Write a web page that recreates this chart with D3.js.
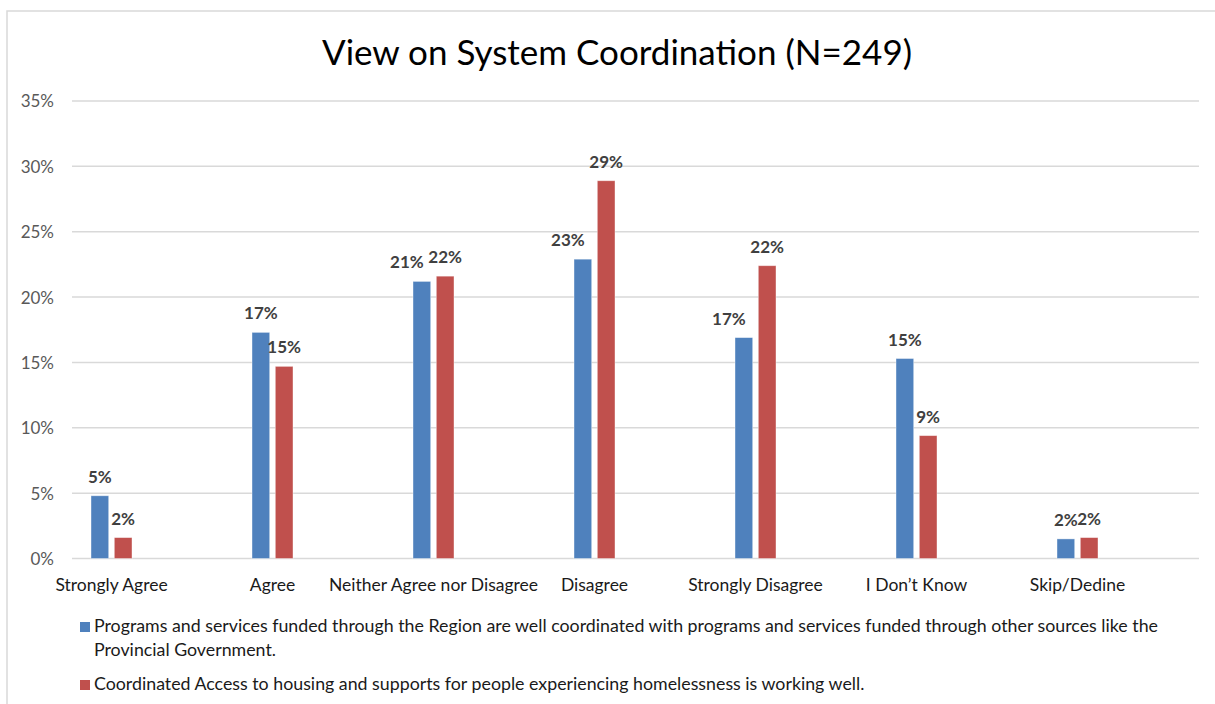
<!DOCTYPE html>
<html><head><meta charset="utf-8">
<script src="https://cdn.jsdelivr.net/npm/d3@7"></script>
<style>
html,body{margin:0;padding:0;background:#fff;}
svg{display:block;font-family:Lato, "Open Sans", sans-serif;}
</style></head>
<body><svg id="c" width="1215" height="704"></svg>
<script>
const title = "View on System Coordination (N=249)";
const categories = ["Strongly Agree","Agree","Neither Agree nor Disagree","Disagree","Strongly Disagree","I Don\u2019t Know","Skip/Dedine"];
const seriesNames = [
  "Programs and services funded through the Region are well coordinated with programs and services funded through other sources like the Provincial Government.",
  "Coordinated Access to housing and supports for people experiencing homelessness is working well."
];
const seriesColors = ["#4F81BD","#C0504D"];
const regionValues = [4.8, 17.3, 21.2, 22.9, 16.9, 15.3, 1.5];
const accessValues = [1.6, 14.7, 21.6, 28.9, 22.4, 9.4, 1.6];
const yTicks = [0,5,10,15,20,25,30,35];

const series = [regionValues, accessValues];
const svg = d3.select("#c");

// frame
svg.append("rect").attr("x",7).attr("y",11).attr("width",1230).attr("height",720)
  .attr("fill","#fff").attr("stroke","#d9d9d9").attr("stroke-width",1.5);

svg.append("text").attr("x",617).attr("y",65).attr("text-anchor","middle")
  .attr("font-size",35).attr("fill","#000").text(title);

const y = d3.scaleLinear().domain([0,35]).range([558.5,101]);
const x0 = d3.scaleBand().domain(categories).range([31,1158]);
const x1 = d3.scaleBand().domain([0,1]).range([-20.5,20.5]).paddingInner(0.24);

// gridlines
svg.append("g").selectAll("line").data(yTicks).join("line")
  .attr("x1",72).attr("x2",1199).attr("y1",d=>y(d)).attr("y2",d=>y(d))
  .attr("stroke","#d9d9d9").attr("stroke-width",1.5);

// y axis labels
const yAxis = d3.axisLeft(y).tickValues(yTicks).tickFormat(d=>d+"%").tickSize(0).tickPadding(0);
const ya = svg.append("g").attr("transform","translate(54,0)").call(yAxis);
ya.select(".domain").remove();
ya.selectAll("text").attr("font-size",17).attr("fill","#595959").attr("font-family","Lato, sans-serif").attr("dy","0.35em");

// x axis labels
const xAxis = d3.axisBottom(x0).tickSize(0).tickPadding(0);
const xa = svg.append("g").attr("transform","translate(0,591)").call(xAxis);
xa.select(".domain").remove();
xa.selectAll("text").attr("font-size",17.5).attr("fill","#1a1a1a").attr("font-family","Lato, sans-serif").attr("dy",0);

// bars
const LH = 12; // label cap height
const groups = svg.append("g").selectAll("g").data(categories).join("g")
  .attr("transform",d=>`translate(${x0(d)+x0.bandwidth()/2},0)`);
groups.each(function(cat,i){
  const g = d3.select(this);
  series.forEach((vals,s)=>{
    g.append("rect").attr("x",x1(s)).attr("width",x1.bandwidth())
      .attr("y",y(vals[i])).attr("height",y(0)-y(vals[i]))
      .attr("fill",seriesColors[s]).attr("stroke","rgba(255,255,255,0.5)").attr("stroke-width",0.8);
  });
  const labels = series.map((vals,s)=>g.append("text")
      .attr("x",x1(s)+x1.bandwidth()/2).attr("y",y(vals[i])-13)
      .attr("text-anchor","middle").attr("font-size",17).attr("font-weight","bold")
      .attr("fill","#404040").text(Math.round(vals[i])+"%"));
  // avoid collisions of first label with second label / second bar
  const w0 = labels[0].node().getComputedTextLength(), w1 = labels[1].node().getComputedTextLength();
  const c0 = x1(0)+x1.bandwidth()/2, c1 = x1(1)+x1.bandwidth()/2;
  const b0 = y(series[0][i])-13, b1 = y(series[1][i])-13;
  const hOverlapLabel = (c0 + w0/2) - (c1 - w1/2) > 1;
  const vOverlapLabel = Math.abs(b0-b1) < LH;
  const hOverlapBar = (c0 + w0/2) > x1(1) + 1;
  const vOverlapBar = y(series[1][i]) < b0;
  if ((hOverlapLabel && vOverlapLabel) || (hOverlapBar && vOverlapBar)) labels[0].attr("x", c0 - 15);
});

// legend
const legendY = [622, 680];
const lg = svg.append("g");
seriesNames.forEach((name,s)=>{
  lg.append("rect").attr("x",80).attr("y",legendY[s]).attr("width",10).attr("height",10).attr("fill",seriesColors[s]);
  const t = lg.append("text").attr("x",94).attr("y",legendY[s]+10).attr("font-size",17.8).attr("fill","#1a1a1a");
  const words = name.split(" ");
  let line = [], tspan = t.append("tspan").attr("x",94);
  words.forEach(w=>{
    line.push(w);
    tspan.text(line.join(" "));
    if (tspan.node().getComputedTextLength() > 1080 && line.length>1){
      line.pop(); tspan.text(line.join(" "));
      line=[w];
      tspan = t.append("tspan").attr("x",94).attr("dy",23.5).text(w);
    }
  });
});
</script></body></html>
